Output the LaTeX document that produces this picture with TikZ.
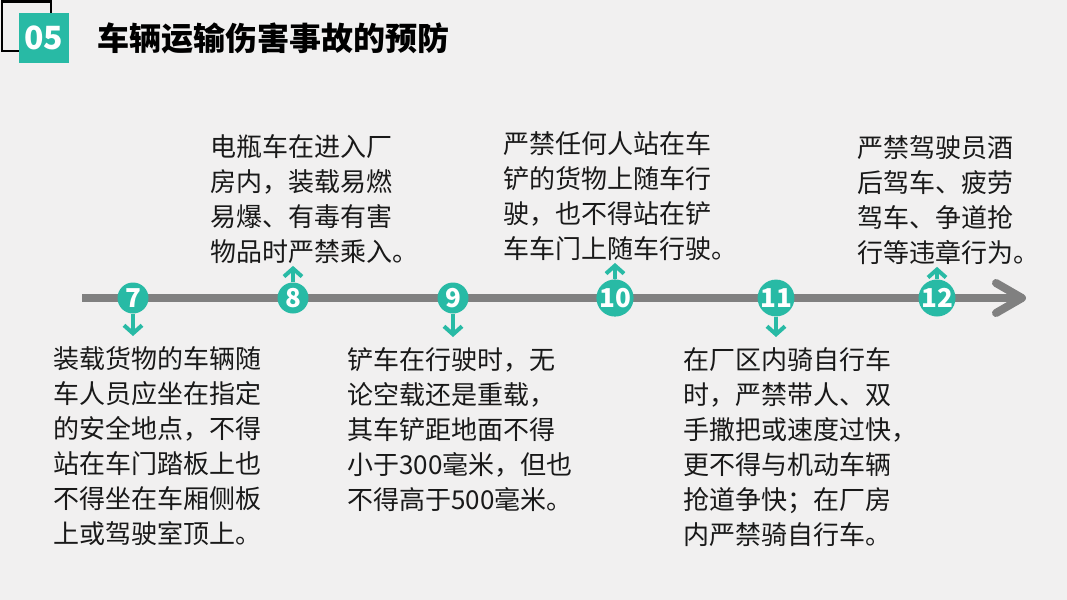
\documentclass[tikz,border=0pt]{standalone}
\usepackage{fontspec}
\setmainfont{Noto Sans CJK SC}
\usetikzlibrary{arrows.meta,positioning}
\definecolor{tlteal}{RGB}{40,186,165}
\definecolor{tlgray}{RGB}{128,128,128}
\definecolor{tlpaper}{RGB}{241,240,240}
\definecolor{tlink}{RGB}{25,25,25}

\begin{document}
\begin{tikzpicture}[x=0.5pt,y=-0.5pt,
    desc/.style={anchor=north west,inner sep=0pt,align=left,text=tlink,
      font=\fontsize{13}{17.5}\selectfont},
    dot/.style={circle,fill=tlteal,minimum size=15.5pt,inner sep=0pt,
      text=white,font=\fontsize{13}{13}\selectfont\bfseries},
    marker/.style={tlteal,line width=2pt,-{Straight Barb[length=4pt,width=9pt]}}]
  % page
  \fill[tlpaper] (0,0) rectangle (1067,600);
  \useasboundingbox (0,0) rectangle (1067,600);
  % heading
  \draw[line width=1.3pt,black] (2,1.5) rectangle (51,51);
  \node[fill=tlteal,minimum size=25pt,inner sep=0pt,text=white,
    font=\fontsize{16}{16}\selectfont\bfseries] (num) at (44,38) {05};
  \node[anchor=west,inner sep=0pt,text=black,
    font=\fontsize{16}{16}\selectfont\bfseries] (title) at (97,38) {车辆运输伤害事故的预防};
  % time line
  \coordinate (tl start) at (82,298);
  \coordinate (tl end) at (1022,298);
  \draw[tlgray,line width=4pt] (tl start) -- (tl end);
  \draw[tlgray,line width=4pt,line cap=round,line join=round]
    (tl end) ++(-26,-15) -- (tl end) -- ++(-26,15);
  % steps
  \node[dot] (c7) at (133,298) {7};
  \node[dot] (c8) at (293,298) {8};
  \node[dot] (c9) at (453,298) {9};
  \node[dot] (c10) at (615,298) {10};
  \node[dot] (c11) at (776,298) {11};
  \node[dot] (c12) at (937,298) {12};
  % texts
  \node[desc] (t7) at (53,346) {装载货物的车辆随\\车人员应坐在指定\\的安全地点，不得\\站在车门踏板上也\\不得坐在车厢侧板\\上或驾驶室顶上。};
  \node[desc] (t8) at (210,134) {电瓶车在进入厂\\房内，装载易燃\\易爆、有毒有害\\物品时严禁乘入。};
  \node[desc] (t9) at (347,347) {铲车在行驶时，无\\论空载还是重载，\\其车铲距地面不得\\小于300毫米，但也\\不得高于500毫米。};
  \node[desc] (t10) at (503,131) {严禁任何人站在车\\铲的货物上随车行\\驶，也不得站在铲\\车车门上随车行驶。};
  \node[desc] (t11) at (683,347) {在厂区内骑自行车\\时，严禁带人、双\\手撒把或速度过快，\\更不得与机动车辆\\抢道争快；在厂房\\内严禁骑自行车。};
  \node[desc] (t12) at (857,135) {严禁驾驶员酒\\后驾车、疲劳\\驾车、争道抢\\行等违章行为。};
  % pointers
  \draw[marker,shorten >=5pt] (c7.south) -- (c7.south |- t7.north);
  \draw[marker,shorten >=5pt] (c9.south) -- (c9.south |- t9.north);
  \draw[marker,shorten >=5pt] (c11.south) -- (c11.south |- t11.north);
  \draw[marker,shorten >=1pt] (c8.north) -- (c8.north |- t8.south);
  \draw[marker,shorten >=1pt] (c10.north) -- (c10.north |- t10.south);
  \draw[marker,shorten >=1pt] (c12.north) -- (c12.north |- t12.south);
\end{tikzpicture}
\end{document}
